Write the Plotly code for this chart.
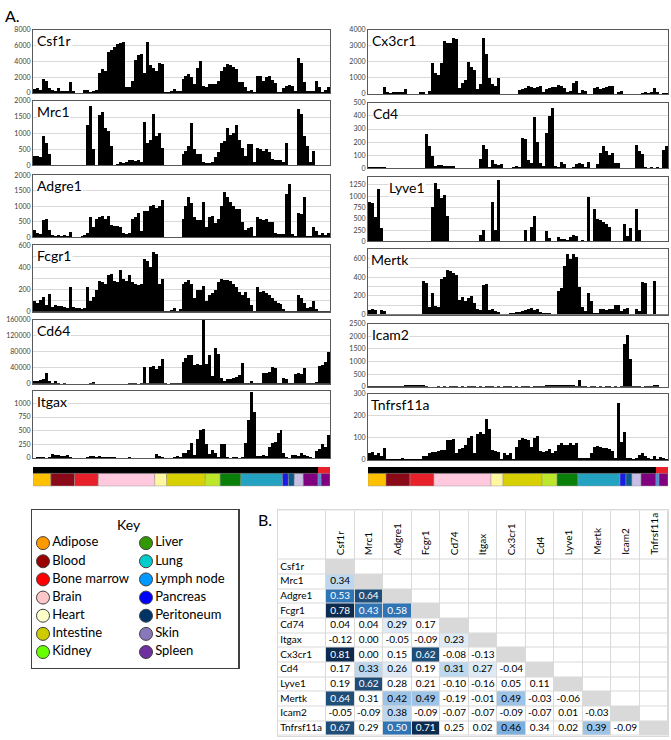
import plotly.graph_objects as go

W, H = 671, 740
FONT = "Lato, 'Liberation Sans', sans-serif"

# ---------------- bar-panel data (100 samples each) ----------------
csf1r = [500,600,400,1800,1500,600,400,300,600,300,250,300,1400,200,50,50,50,400,350,150,300,400,
         2500,3000,2800,5200,5500,5800,6200,6300,6500,800,700,1500,4200,4800,4900,2500,6400,3500,3200,2800,3800,3700,
         100,100,200,500,200,300,1800,2200,2400,2000,1200,3200,4000,900,800,1200,1200,
         1200,1500,2800,3300,3700,3500,3300,3000,1400,1400,800,300,400,100,
         2200,2100,1500,2000,2100,1600,1300,100,100,600,900,1000,900,200,
         4400,3800,1400,300,200,300,1500,700,100,400,800]
mrc1 = [300,280,250,900,700,350,10,10,10,10,10,10,10,10,10,10,10,10,1250,1850,500,10,
        1550,1650,1150,1050,600,20,50,100,80,100,150,150,120,150,100,
        1350,700,800,1600,900,1000,550,10,10,10,10,10,10,
        350,450,600,1300,500,350,350,100,80,60,100,250,400,700,750,1150,950,1000,1250,800,550,300,650,650,100,
        550,500,450,500,400,180,170,170,160,100,700,0,0,0,
        1750,1600,900,600,100,450,0,0,0,0,0]
adgre1 = [250,150,120,550,600,250,80,60,70,60,80,60,180,20,20,30,60,80,150,
          650,350,600,650,700,600,700,400,380,380,350,150,100,150,600,650,800,200,850,850,1000,1050,950,1000,1200,
          20,20,20,20,20,20,
          600,1000,1300,1100,650,550,550,1150,350,650,700,450,600,1000,1450,1300,1150,1000,900,900,
          500,250,300,350,50,650,600,550,600,500,500,150,100,100,100,
          1400,1700,100,50,800,750,1300,50,50,350,200,80,150,80,150]
fcgr1 = [100,80,110,130,60,160,40,60,50,50,40,30,220,40,30,30,20,30,220,
         100,130,200,280,270,250,330,340,280,270,380,300,280,330,270,250,240,250,480,460,400,540,520,250,300,
         5,10,15,30,10,20,
         250,270,290,250,120,200,200,230,100,150,170,200,270,300,290,290,280,250,220,180,150,180,120,60,10,
         220,180,190,170,150,120,100,80,70,20,10,10,5,5,150,120,80,30,40,100,20,5,5,5,10]
cd64 = [6000,7000,10000,12000,28000,8000,
        3000,6000,1000,800,1500,800,500,500,300,500,400,500,400,3000,4000,500,
        600,800,700,600,500,500,600,500,800,700,1000,1500,1000,500,1000,
        43000,3000,42000,45000,38000,45000,62000,
        1000,800,1000,1500,1000,1500,
        55000,65000,72000,72000,48000,50000,48000,160000,50000,72000,20000,88000,75000,
        15000,8000,12000,12000,15000,18000,22000,52000,2000,1500,7000,2000,1500,2000,27000,28000,30000,42000,40000,
        1000,2000,15000,12000,2000,1000,25000,28000,25000,40000,3000,2000,3000,5000,45000,48000,55000,80000]
itgax = [10,20,15,20,10,20,80,60,50,40,30,50,20,10,10,10,10,10,20,40,30,20,
         30,20,25,20,20,15,10,10,10,10,15,10,10,10,
         10,10,10,10,10,80,40,20,
         10,5,10,20,30,20,
         100,100,150,280,50,350,520,540,250,80,140,100,20,250,250,20,10,15,20,10,20,
         280,700,1200,850,40,40,50,40,200,280,300,450,520,100,20,10,60,60,30,90,50,40,20,10,120,170,250,200,420]
cx3cr1 = [20,20,30,20,20,450,100,80,100,100,120,150,300,10,10,10,10,120,100,20,
          200,1900,1300,1200,1900,3300,3200,3200,3500,3400,400,700,900,2000,1700,1500,300,600,3500,2500,1000,600,500,1000,
          10,10,10,10,10,10,
          250,300,400,500,450,400,450,500,100,300,400,450,450,550,500,400,100,200,700,800,
          50,250,200,30,30,400,450,300,400,450,500,500,30,150,200,10,10,10,10,10,
          10,80,100,80,150,400,100,10,80,60]
cd4 = [10,8,10,6,8,10,2,2,2,2,2,2,2,2,2,2,2,2,2,
       260,170,90,20,25,25,20,20,15,15,3,2,2,2,2,2,2,2,
       70,180,150,10,60,30,25,30,5,5,5,8,20,10,
       230,220,60,40,390,200,40,20,270,400,460,20,10,50,30,5,5,10,30,40,
       30,10,50,5,5,30,120,170,130,100,120,40,40,5,5,5,5,5,
       180,130,110,10,5,10,5,10,5,140,170]
lyve1 = [880,850,550,1150,300,5,5,5,5,5,5,5,5,5,5,5,5,5,5,5,5,
         750,1300,1150,950,1030,560,5,5,5,5,5,5,5,5,5,5,
         150,250,10,10,880,250,1350,5,5,10,10,10,10,10,10,
         250,20,320,560,20,10,10,220,80,10,10,100,60,50,30,100,140,130,20,30,10,990,10,
         720,500,480,420,380,320,5,5,5,5,380,120,300,10,720,250,5,5,5,5,5,5,5,5,5]
mertk = [50,60,50,10,50,40,5,5,5,5,5,5,5,5,5,5,5,5,
         360,340,80,230,90,80,380,400,480,470,450,420,160,190,150,180,200,120,60,50,320,330,50,60,40,30,10,
         10,10,20,20,30,30,40,50,60,70,50,60,30,20,20,20,10,10,
         250,280,520,650,600,650,620,300,80,40,230,150,20,20,60,60,50,60,60,100,
         100,40,60,70,10,10,60,40,350,340,10,10,360,5,5,5,5]
icam2 = [20,30,30,40,40,40,40,40,50,50,50,50,60,60,60,60,70,80,60,50,10,10,
         10,15,10,15,10,15,20,15,10,15,10,15,20,15,10,15,10,15,20,15,10,15,10,15,20,15,10,15,10,15,20,15,10,15,
         30,40,50,60,60,70,70,80,70,60,70,80,60,50,270,40,
         15,10,15,20,10,15,10,15,20,10,15,10,15,1700,2050,1100,20,
         20,15,10,15,20,15,60,70,10,10,10]
tnfrsf11a = [30,35,25,30,20,55,5,5,5,5,5,10,5,5,5,5,5,5,20,20,30,35,
             35,40,45,45,90,90,95,30,50,55,70,100,110,30,120,125,120,185,140,45,40,35,
             5,30,25,30,5,60,90,100,95,90,60,100,110,40,35,40,50,30,40,70,
             75,70,70,75,70,75,10,10,10,10,30,60,65,60,55,55,50,40,10,260,
             80,125,10,10,5,10,25,30,20,10,5,20,5,15,10,5]

gene_names = ["Csf1r","Mrc1","Adgre1","Fcgr1","Cd64","Itgax",
              "Cx3cr1","Cd4","Lyve1","Mertk","Icam2","Tnfrsf11a"]
gene_values = [csf1r, mrc1, adgre1, fcgr1, cd64, itgax,
               cx3cr1, cd4, lyve1, mertk, icam2, tnfrsf11a]
y_max = [8000, 2000, 2000, 600, 160000, 1230, 4000, 500, 1420, 700, 2500, 300]
y_dtick = [2000, 500, 500, 200, 40000, 250, 1000, 100, 250, 200, 500, 100]
y_minor = [None, None, None, 100, None, None, None, None, None, 100, None, None]

# tissue strip
tissue_names = ["Adipose","Blood","Bone marrow","Brain","Heart","Intestine","Kidney","Liver",
                "Lung","Pancreas","Peritoneum","Skin","Spleen","Lymph node","Spleen"]
tissue_counts = [6, 8, 8, 19, 4, 13, 5, 7, 14, 2, 2, 3, 5, 1, 3]
tissue_colors = ["#FFC000","#8B0A1A","#E8202A","#FFC8DC","#FFF7A0","#D8D000","#BCE62A","#0A7F0A",
                 "#24A2C2","#1B1BE8","#0A5C8A","#C9BFE6","#800080","#3F8FE8","#800080"]
group_counts = [96, 4]
group_colors = ["#000000", "#E8202A"]

# key
key_left = ["Adipose","Blood","Bone marrow","Brain","Heart","Intestine","Kidney"]
key_left_colors = ["#FF9900","#990000","#FF0000","#FFC7C7","#FFFFCC","#CCCC00","#66FF00"]
key_right = ["Liver","Lung","Lymph node","Pancreas","Peritoneum","Skin","Spleen"]
key_right_colors = ["#339900","#00CCCC","#0099FF","#0000FF","#003366","#8877BB","#7030A0"]

# correlation matrix
corr_genes = ["Csf1r","Mrc1","Adgre1","Fcgr1","Cd74","Itgax","Cx3cr1","Cd4","Lyve1","Mertk","Icam2","Tnfrsf11a"]
corr_values = [
    [],
    [0.34],
    [0.53, 0.64],
    [0.78, 0.43, 0.58],
    [0.04, 0.04, 0.29, 0.17],
    [-0.12, 0.00, -0.05, -0.09, 0.23],
    [0.81, 0.00, 0.15, 0.62, -0.08, -0.13],
    [0.17, 0.33, 0.26, 0.19, 0.31, 0.27, -0.04],
    [0.19, 0.62, 0.28, 0.21, -0.10, -0.16, 0.05, 0.11],
    [0.64, 0.31, 0.42, 0.49, -0.19, -0.01, 0.49, -0.03, -0.06],
    [-0.05, -0.09, 0.38, -0.09, -0.07, -0.07, -0.09, -0.07, 0.01, -0.03],
    [0.67, 0.29, 0.50, 0.71, 0.25, 0.02, 0.46, 0.34, 0.02, 0.39, -0.09],
]
corr_shade = [
    [],
    [2],
    [5, 6],
    [7, 5, 5],
    [0, 0, 1, 0],
    [0, 0, 0, 0, 1],
    [7, 0, 0, 6, 0, 0],
    [0, 2, 1, 0, 2, 1, 0],
    [0, 6, 0, 0, 0, 0, 0, 0],
    [6, 0, 3, 3, 0, 0, 3, 0, 0],
    [0, 0, 2, 0, 0, 0, 0, 0, 0, 0],
    [6, 0, 5, 7, 0, 0, 4, 0, 0, 3, 0],
]
shade_colors = ["#FFFFFF","#DEEBF7","#BDD7EE","#9DC3E6","#7DAFDD","#2F75B5","#1F4E79","#0D2B4E","#D9D9D9"]

# ---------------- layout geometry (pixels) ----------------
left_x = (33, 330)
right_x = (368, 668)
left_rows = [(25, 89), (97, 162), (172, 235), (243, 310), (318, 383), (390, 458)]
right_rows = [(25, 90), (99, 165), (174, 239), (247, 313), (322, 386), (393, 460)]
label_dx = [3, 3, 3, 3, 3, 3, 3, 4, 20, 2, 3, 2]

def dx(a, b):
    return [a / W, b / W]

def dy(t, b):
    return [1 - b / H, 1 - t / H]

def ax(n):
    return ("x" if n == 1 else f"x{n}"), ("y" if n == 1 else f"y{n}")

def lk(kind, n):
    return kind + ("" if n == 1 else str(n))

fig = go.Figure()
layout = dict(width=W, height=H, margin=dict(l=0, r=0, t=0, b=0), autosize=False,
              paper_bgcolor="white", plot_bgcolor="white", showlegend=False,
              font=dict(family=FONT, color="#000000"), bargap=0)
annotations = []
shapes = []

for k in range(12):
    n = k + 1
    xa, ya = ax(n)
    vals = gene_values[k]
    fig.add_trace(go.Bar(x=list(range(len(vals))), y=vals, width=1,
                         marker=dict(color="black", line=dict(width=0)),
                         xaxis=xa, yaxis=ya, hoverinfo="skip"))
    if k < 6:
        xr = left_x
        t, b = left_rows[k]
    else:
        xr = right_x
        t, b = right_rows[k - 6]
    layout[lk("xaxis", n)] = dict(domain=dx(*xr), range=[-0.5, len(vals) - 0.5], anchor=ya,
                                  showgrid=False, zeroline=False, showticklabels=False, ticks="",
                                  showline=True, mirror=True, linecolor="#595959", linewidth=1,
                                  fixedrange=True)
    yax = dict(domain=dy(t, b), range=[0, y_max[k]], anchor=xa, tick0=0, dtick=y_dtick[k],
               showgrid=True, gridcolor="#D9D9D9", gridwidth=1, zeroline=False,
               showline=True, mirror=True, linecolor="#595959", linewidth=1,
               ticks="", tickformat="d", tickfont=dict(size=7, color="#404040", family=FONT),
               fixedrange=True)
    if y_minor[k]:
        yax["minor"] = dict(dtick=y_minor[k], tick0=0, showgrid=True, gridcolor="#D9D9D9", gridwidth=1)
    layout[lk("yaxis", n)] = yax
    annotations.append(dict(text=gene_names[k], xref=f"{xa} domain", yref=f"{ya} domain",
                            x=0, y=1, xanchor="left", yanchor="top", xshift=label_dx[k], yshift=-1,
                            showarrow=False, bgcolor="white", borderpad=0,
                            font=dict(size=14, family=FONT, color="#000000")))

# tissue strips (n = 13 left, 14 right)
starts = []
s = -0.5
for c in tissue_counts:
    starts.append(s)
    s += c
gstarts = []
s = -0.5
for c in group_counts:
    gstarts.append(s)
    s += c

for n, xr in [(13, left_x), (14, right_x)]:
    xa, ya = ax(n)
    fig.add_trace(go.Bar(x=group_counts, y=[1] * len(group_counts), base=gstarts, orientation="h",
                         width=0.94, marker=dict(color=group_colors, line=dict(width=0)),
                         xaxis=xa, yaxis=ya, hoverinfo="skip"))
    fig.add_trace(go.Bar(x=tissue_counts, y=[0] * len(tissue_counts), base=starts, orientation="h",
                         width=0.94, marker=dict(color=tissue_colors, line=dict(width=0.5, color="#9A9A9A")),
                         xaxis=xa, yaxis=ya, hoverinfo="skip"))
    layout[lk("xaxis", n)] = dict(domain=dx(*xr), range=[-0.5, 99.5], anchor=ya, visible=False, fixedrange=True)
    layout[lk("yaxis", n)] = dict(domain=dy(463, 490), range=[-0.5, 1.5], anchor=xa, visible=False, fixedrange=True)

# correlation matrix (n = 15)
n = 15
xa, ya = ax(n)
ng = len(corr_genes)
lab_w = 48 / 28.5
head_h = 50 / 14.8
x_edges = [-lab_w] + list(range(ng + 1))
y_edges = [-head_h] + list(range(ng + 1))
z = [[0] * (ng + 1) for _ in range(ng + 1)]
txt_x, txt_y, txt_s, txt_c = [], [], [], []
for i in range(ng):
    for j in range(ng):
        if j < i:
            lvl = corr_shade[i][j]
            z[i + 1][j + 1] = lvl
            txt_x.append(j + 0.5)
            txt_y.append(i + 0.5)
            txt_s.append(f"{corr_values[i][j]:.2f}")
            txt_c.append("white" if lvl >= 5 else "black")
        elif j == i:
            z[i + 1][j + 1] = 8
cs = []
for kk, c in enumerate(shade_colors):
    cs.append([kk / len(shade_colors), c])
    cs.append([(kk + 1) / len(shade_colors), c])
fig.add_trace(go.Heatmap(z=z, x=x_edges, y=y_edges, colorscale=cs, zmin=-0.5, zmax=8.5,
                         showscale=False, xgap=1, ygap=1, xaxis=xa, yaxis=ya, hoverinfo="skip"))
fig.add_trace(go.Scatter(x=txt_x, y=txt_y, text=txt_s, mode="text",
                         textfont=dict(size=10, color=txt_c, family=FONT),
                         xaxis=xa, yaxis=ya, hoverinfo="skip"))
fig.add_trace(go.Scatter(x=[-lab_w + 0.08] * ng, y=[i + 0.5 for i in range(ng)], text=corr_genes,
                         mode="text", textposition="middle right",
                         textfont=dict(size=10, color="black", family=FONT),
                         xaxis=xa, yaxis=ya, hoverinfo="skip"))
for j, g in enumerate(corr_genes):
    annotations.append(dict(text=g, xref=xa, yref=ya, x=j + 0.5, y=0, textangle=-90,
                            xanchor="center", yanchor="bottom", yshift=3, showarrow=False,
                            font=dict(size=10, family=FONT, color="black")))
layout[lk("xaxis", n)] = dict(domain=dx(278, 668), range=[-lab_w, ng], anchor=ya, showgrid=False,
                              zeroline=False, showticklabels=False, ticks="", showline=True, mirror=True,
                              linecolor="#D9D9D9", linewidth=1, fixedrange=True)
layout[lk("yaxis", n)] = dict(domain=dy(511, 738.6), range=[ng, -head_h], anchor=xa, showgrid=False,
                              zeroline=False, showticklabels=False, ticks="", showline=True, mirror=True,
                              linecolor="#D9D9D9", linewidth=1, fixedrange=True)
shapes.append(dict(type="rect", xref=f"{xa} domain", yref=f"{ya} domain", x0=0, x1=1, y0=0, y1=1,
                   fillcolor="#D9D9D9", line=dict(width=0), layer="below"))

# key (n = 16)
n = 16
xa, ya = ax(n)
kx = [0] * len(key_left) + [1] * len(key_right)
ky = list(range(len(key_left))) + list(range(len(key_right)))
fig.add_trace(go.Scatter(x=kx, y=ky, mode="markers+text", text=key_left + key_right,
                         textposition="middle right",
                         marker=dict(size=13, color=key_left_colors + key_right_colors,
                                     line=dict(width=1, color="#404040")),
                         textfont=dict(size=13, color="black", family=FONT),
                         xaxis=xa, yaxis=ya, hoverinfo="skip", cliponaxis=False))
layout[lk("xaxis", n)] = dict(domain=dx(32, 238), range=[-11 / 103, 195 / 103], anchor=ya, showgrid=False,
                              zeroline=False, showticklabels=False, ticks="", showline=True, mirror=True,
                              linecolor="#404040", linewidth=1.5, fixedrange=True)
layout[lk("yaxis", n)] = dict(domain=dy(511, 670), range=[126 / 18.35, -33 / 18.35], anchor=xa, showgrid=False,
                              zeroline=False, showticklabels=False, ticks="", showline=True, mirror=True,
                              linecolor="#404040", linewidth=1.5, fixedrange=True)
annotations.append(dict(text="Key", xref=f"{xa} domain", yref=ya, x=97 / 206, y=-1, xanchor="center",
                        yanchor="middle", showarrow=False, font=dict(size=14, family=FONT, color="black")))

# panel letters
annotations.append(dict(text="A.", xref="paper", yref="paper", x=3 / W, y=1 - 1 / H, xanchor="left",
                        yanchor="top", yshift=2, showarrow=False, font=dict(size=16, family=FONT, color="black")))
annotations.append(dict(text="B.", xref="paper", yref="paper", x=256 / W, y=1 - 509 / H, xanchor="left",
                        yanchor="top", showarrow=False, font=dict(size=16, family=FONT, color="black")))

layout["annotations"] = annotations
layout["shapes"] = shapes
fig.update_layout(**layout)
fig.write_html("out.html", config={"displayModeBar": False, "staticPlot": True},
               post_script="document.body.style.margin='0';document.body.style.overflow='hidden';")
